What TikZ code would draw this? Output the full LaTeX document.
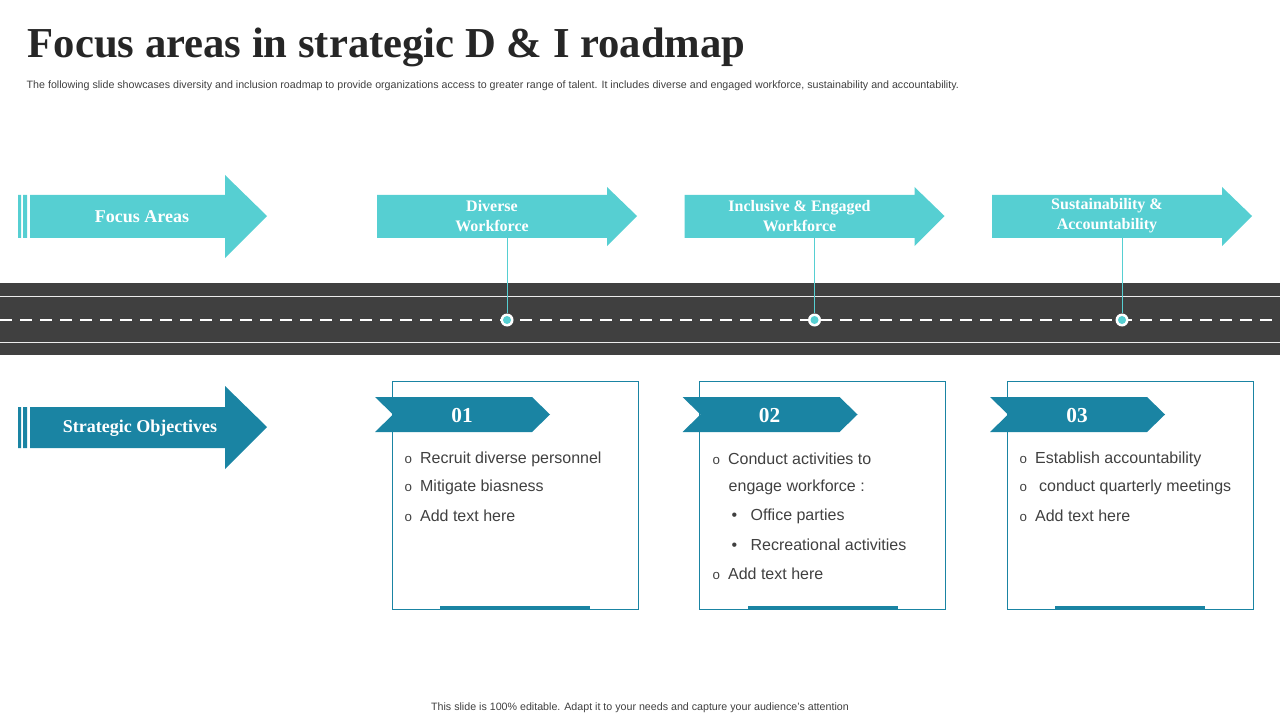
\documentclass[tikz,border=0pt]{standalone}
\usepackage{fontspec}
\setmainfont{Liberation Sans}
\newfontfamily\serifb{Liberation Serif}
\begin{document}
\begin{tikzpicture}[x=0.75pt,y=-0.75pt,
  lt/.style={fill=tealA,draw=none},
  dk/.style={fill=tealB,draw=none},
  hd/.style={text=white,font=\serifb\bfseries\fontsize{12}{15}\selectfont,align=center},
  bx/.style={draw=tealB,line width=0.6pt},
  bl/.style={anchor=west,text=txt,font=\fontsize{12}{14}\selectfont},
  num/.style={text=white,font=\serifb\bfseries\fontsize{16}{18}\selectfont}]
\definecolor{tealA}{HTML}{56CFD2}
\definecolor{tealB}{HTML}{1A84A3}
\definecolor{road}{HTML}{404040}
\definecolor{txt}{HTML}{404040}
\useasboundingbox (0,0) rectangle (1280,720);
\node[anchor=west,font=\serifb\bfseries\fontsize{32}{34}\selectfont,text=black!85] (title) at (23,47) {Focus areas in strategic D \& I roadmap};
\node[anchor=west,font=\fontsize{8}{9}\selectfont,text=txt] (sub) at (22,86) {The following slide showcases diversity and inclusion roadmap to provide organizations access to greater range of talent. It includes diverse and engaged workforce, sustainability and accountability.};
% left arrows
\fill[lt] (18,195) rectangle (21,238) (23,195) rectangle (27,238);
\fill[lt] (30,195) -- (225,195) -- (225,175) -- (267,216) -- (225,258) -- (225,238) -- (30,238) -- cycle;
\node[hd,font=\serifb\bfseries\fontsize{13.5}{15}\selectfont] (fa) at (142,217) {Focus Areas};
\fill[dk] (18,407) rectangle (21,448) (23,407) rectangle (27,448);
\fill[dk] (30,407) -- (225,407) -- (225,386) -- (267,427) -- (225,469) -- (225,448) -- (30,448) -- cycle;
\node[hd,font=\serifb\bfseries\fontsize{13.5}{15}\selectfont] (so) at (140,428) {Strategic Objectives};
% road
\fill[road] (0,283) rectangle (1280,355);
\draw[white!85!gray,line width=0.6pt] (0,296) -- (1280,296) (0,342) -- (1280,342);
\draw[white,line width=1.2pt,dash pattern=on 9pt off 6pt] (0,320) -- (1280,320);
\foreach \i/\dx/\t/\n in {
 1/0/{Diverse\\Workforce}/01,
 2/307.5/{Inclusive \& Engaged\\Workforce}/02,
 3/615/{Sustainability \&\\Accountability}/03}{
  \begin{scope}[xshift=\dx*0.75pt]
  \fill[lt] (377,195) -- (607,195) -- (607,187) -- (637,216) -- (607,246) -- (607,238) -- (377,238) -- cycle;
  \node[hd] (h\i) at (492,216) {\t};
  \coordinate (top\i) at (507,238);
  \node[circle,fill=white,inner sep=0pt,minimum size=13pt*0.75] (d\i) at (507,320) {};
  \fill[tealA] (507,320) circle (4);
  \draw[tealA,line width=0.6pt] (top\i) -- (d\i);
  \draw[bx] (392,381) rectangle (638,609);
  \fill[tealB] (440,606) rectangle (590,610);
  \fill[dk] (375,397) -- (532,397) -- (550,414.5) -- (532,432) -- (375,432) -- (393,414.5) -- cycle;
  \node[num] (n\i) at (462,416) {\n};
  \end{scope}}
\begin{scope}[every node/.style={bl}]
\foreach \y/\t in {459/Recruit diverse personnel,487/Mitigate biasness,516/Add text here}{
  \node (a\y) at (400,\y) {\fontsize{10}{12}\selectfont o\hspace{6pt}\fontsize{12}{14}\selectfont\t};}
\node (b1) at (708,459) {\fontsize{10}{12}\selectfont o\hspace{6pt}\fontsize{12}{14}\selectfont Conduct activities to};
\node (b2) at (724,487) {engage workforce :};
\node (b3) at (727,516) {•\hspace{10pt}Office parties};
\node (b4) at (727,545) {•\hspace{10pt}Recreational activities};
\node (b5) at (708,574) {\fontsize{10}{12}\selectfont o\hspace{6pt}\fontsize{12}{14}\selectfont Add text here};
\node (c1) at (1015,459) {\fontsize{10}{12}\selectfont o\hspace{6pt}\fontsize{12}{14}\selectfont Establish accountability};
\node (c2) at (1015,487) {\fontsize{10}{12}\selectfont o\hspace{9pt}\fontsize{12}{14}\selectfont conduct quarterly meetings};
\node (c3) at (1015,516) {\fontsize{10}{12}\selectfont o\hspace{6pt}\fontsize{12}{14}\selectfont Add text here};
\end{scope}
\node[font=\fontsize{8}{9}\selectfont,text=txt] (foot) at (640,708) {This slide is 100\% editable. Adapt it to your needs and capture your audience's attention};
\end{tikzpicture}
\end{document}
